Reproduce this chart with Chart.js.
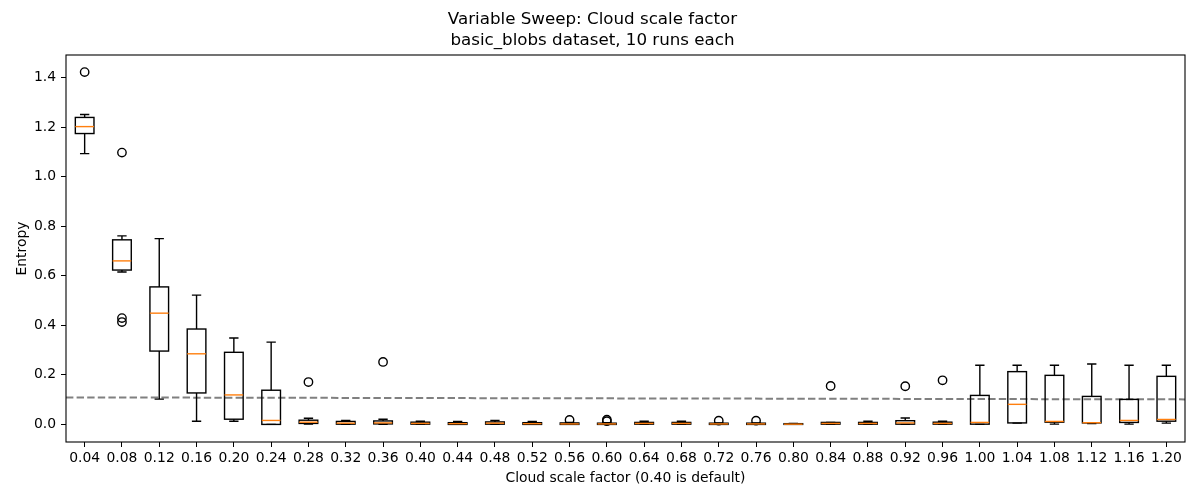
<!DOCTYPE html>
<html>
<head>
<meta charset="utf-8">
<script src="https://cdn.jsdelivr.net/npm/chart.js@4/dist/chart.umd.min.js"></script>
<style>
html, body { margin: 0; padding: 0; background: #fff; }
</style>
</head>
<body>
<canvas id="sweepChart" width="1200" height="500"></canvas>
<script>
var scaleLabels = ['0.04', '0.08', '0.12', '0.16', '0.20', '0.24', '0.28', '0.32', '0.36', '0.40',
    '0.44', '0.48', '0.52', '0.56', '0.60', '0.64', '0.68', '0.72', '0.76', '0.80',
    '0.84', '0.88', '0.92', '0.96', '1.00', '1.04', '1.08', '1.12', '1.16', '1.20'];

// box stats
var whiskerLow = [1.093, 0.615, 0.102, 0.013, 0.013, 0.000, 0.001, 0.000, 0.000, 0.000,
    0.000, 0.000, 0.000, 0.000, 0.000, 0.000, 0.000, 0.000, 0.000, 0.000,
    0.000, 0.000, 0.000, 0.000, 0.000, 0.005, 0.001, 0.003, 0.001, 0.005];
var quartile1 = [1.174, 0.623, 0.296, 0.127, 0.021, 0.000, 0.004, 0.001, 0.002, 0.001,
    0.000, 0.001, 0.000, 0.000, 0.000, 0.001, 0.001, 0.000, 0.000, 0.000,
    0.001, 0.001, 0.001, 0.001, 0.001, 0.006, 0.009, 0.006, 0.008, 0.013];
var medians = [1.202, 0.660, 0.449, 0.285, 0.119, 0.016, 0.009, 0.005, 0.006, 0.004,
    0.003, 0.005, 0.003, 0.002, 0.002, 0.004, 0.004, 0.002, 0.002, 0.001,
    0.004, 0.004, 0.006, 0.004, 0.008, 0.081, 0.012, 0.007, 0.016, 0.020];
var quartile3 = [1.239, 0.745, 0.555, 0.385, 0.291, 0.138, 0.017, 0.012, 0.014, 0.009,
    0.007, 0.010, 0.007, 0.006, 0.005, 0.008, 0.008, 0.005, 0.005, 0.003,
    0.008, 0.008, 0.015, 0.009, 0.117, 0.213, 0.198, 0.113, 0.101, 0.194];
var whiskerHigh = [1.251, 0.761, 0.750, 0.522, 0.349, 0.332, 0.025, 0.016, 0.021, 0.013,
    0.012, 0.016, 0.012, 0.008, 0.007, 0.013, 0.013, 0.006, 0.006, 0.004,
    0.008, 0.013, 0.026, 0.013, 0.239, 0.239, 0.239, 0.244, 0.239, 0.239];
var outliers = [[1.422], [1.097, 0.429, 0.413], [], [], [], [], [0.171], [], [0.252], [],
    [], [], [], [0.018], [0.019, 0.013], [], [], [0.015], [0.015], [],
    [0.155], [], [0.154], [0.178], [], [], [], [], [], []];

var referenceLine = [0.109, 0.101];   // dashed line, left and right end
var yTicks = [0.0, 0.2, 0.4, 0.6, 0.8, 1.0, 1.2, 1.4];

var boxRanges = [];
var outlierPoints = [];
scaleLabels.forEach(function (label, i) {
    boxRanges.push([quartile1[i], quartile3[i]]);
    outliers[i].forEach(function (v) {
        outlierPoints.push({ x: label, y: v });
    });
});

var fontFamily = "'DejaVu Sans', sans-serif";
var lineW = 1.4;

var boxPartsPlugin = {
    id: 'boxParts',
    beforeDatasetsDraw: function (chart) {
        var ctx = chart.ctx;
        var xs = chart.scales.x;
        var ys = chart.scales.y;
        var area = chart.chartArea;
        ctx.save();
        ctx.beginPath();
        ctx.rect(area.left, area.top, area.right - area.left, area.bottom - area.top);
        ctx.clip();
        ctx.strokeStyle = '#808080';
        ctx.lineWidth = 2;
        ctx.setLineDash([7.4, 3.2]);
        ctx.beginPath();
        ctx.moveTo(area.left, ys.getPixelForValue(referenceLine[0]));
        ctx.lineTo(area.right, ys.getPixelForValue(referenceLine[1]));
        ctx.stroke();
        ctx.restore();
    },
    afterDatasetsDraw: function (chart) {
        var ctx = chart.ctx;
        var xs = chart.scales.x;
        var ys = chart.scales.y;
        var step = xs.getPixelForValue(1) - xs.getPixelForValue(0);
        var half = step * 0.25;
        var capHalf = step * 0.125;
        ctx.save();
        ctx.lineWidth = lineW;
        ctx.setLineDash([]);
        scaleLabels.forEach(function (label, i) {
            var cx = xs.getPixelForValue(i);
            var yLo = ys.getPixelForValue(whiskerLow[i]);
            var yQ1 = ys.getPixelForValue(quartile1[i]);
            var yQ3 = ys.getPixelForValue(quartile3[i]);
            var yHi = ys.getPixelForValue(whiskerHigh[i]);
            var yMed = ys.getPixelForValue(medians[i]);
            ctx.strokeStyle = '#000';
            ctx.beginPath();
            ctx.moveTo(cx, yQ1); ctx.lineTo(cx, yLo);
            ctx.moveTo(cx, yQ3); ctx.lineTo(cx, yHi);
            ctx.moveTo(cx - capHalf, yLo); ctx.lineTo(cx + capHalf, yLo);
            ctx.moveTo(cx - capHalf, yHi); ctx.lineTo(cx + capHalf, yHi);
            ctx.stroke();
            ctx.strokeRect(cx - half, yQ3, half * 2, yQ1 - yQ3);
            ctx.strokeStyle = '#ff7f0e';
            ctx.beginPath();
            ctx.moveTo(cx - half, yMed); ctx.lineTo(cx + half, yMed);
            ctx.stroke();
        });
        ctx.restore();
    },
    afterDraw: function (chart) {
        var ctx = chart.ctx;
        var a = chart.chartArea;
        ctx.save();
        ctx.strokeStyle = '#000';
        ctx.lineWidth = 1.1;
        ctx.strokeRect(a.left, a.top, a.right - a.left, a.bottom - a.top);
        ctx.restore();
    }
};

var chartElement = document.getElementById('sweepChart').getContext('2d');
var chartObject = new Chart(chartElement, {
    type: 'bar',
    data: {
        labels: scaleLabels,
        datasets: [{
            label: 'box',
            data: boxRanges,
            backgroundColor: 'rgba(0,0,0,0)',
            borderWidth: 0,
            barPercentage: 0.5,
            categoryPercentage: 1.0
        }, {
            type: 'line',
            label: 'outliers',
            data: outlierPoints,
            showLine: false,
            pointStyle: 'circle',
            pointRadius: 4.2,
            pointBorderWidth: lineW,
            pointBorderColor: '#000',
            pointBackgroundColor: 'rgba(0,0,0,0)'
        }]
    },
    options: {
        responsive: false,
        animation: false,
        events: [],
        layout: { padding: { left: 0, right: 15, top: 0, bottom: 0 } },
        plugins: {
            legend: { display: false },
            tooltip: { enabled: false },
            title: {
                display: true,
                text: ['Variable Sweep: Cloud scale factor', 'basic_blobs dataset, 10 runs each'],
                color: '#000',
                font: { family: fontFamily, size: 16.7, weight: 'normal', lineHeight: '21px' },
                padding: { top: 9.5, bottom: 3.5 }
            }
        },
        scales: {
            x: {
                offset: true,
                grid: { display: true, offset: false, drawOnChartArea: false, drawTicks: true, tickLength: 5, color: '#000', tickWidth: 1 },
                border: { display: false },
                ticks: { color: '#000', font: { family: fontFamily, size: 13.9 }, padding: 3, maxRotation: 0, autoSkip: false },
                title: { display: true, text: 'Cloud scale factor (0.40 is default)', color: '#000', font: { family: fontFamily, size: 13.9 }, padding: { top: 0, bottom: 13.5 } },
                afterFit: function (scale) { scale.height = 58; }
            },
            y: {
                min: -0.071,
                max: 1.491,
                grid: { display: true, drawOnChartArea: false, drawTicks: true, tickLength: 5, color: '#000', tickWidth: 1 },
                border: { display: false },
                ticks: {
                    color: '#000',
                    font: { family: fontFamily, size: 13.9 },
                    padding: 5,
                    callback: function (v) { return Number(v).toFixed(1); }
                },
                afterBuildTicks: function (scale) {
                    scale.ticks = yTicks.map(function (v) { return { value: v }; });
                },
                title: { display: true, text: 'Entropy', color: '#000', font: { family: fontFamily, size: 13.9 }, padding: { top: 14, bottom: 0 } },
                afterFit: function (scale) { scale.width = 66; }
            }
        }
    },
    plugins: [boxPartsPlugin]
});
chartObject.update();
</script>
</body>
</html>
